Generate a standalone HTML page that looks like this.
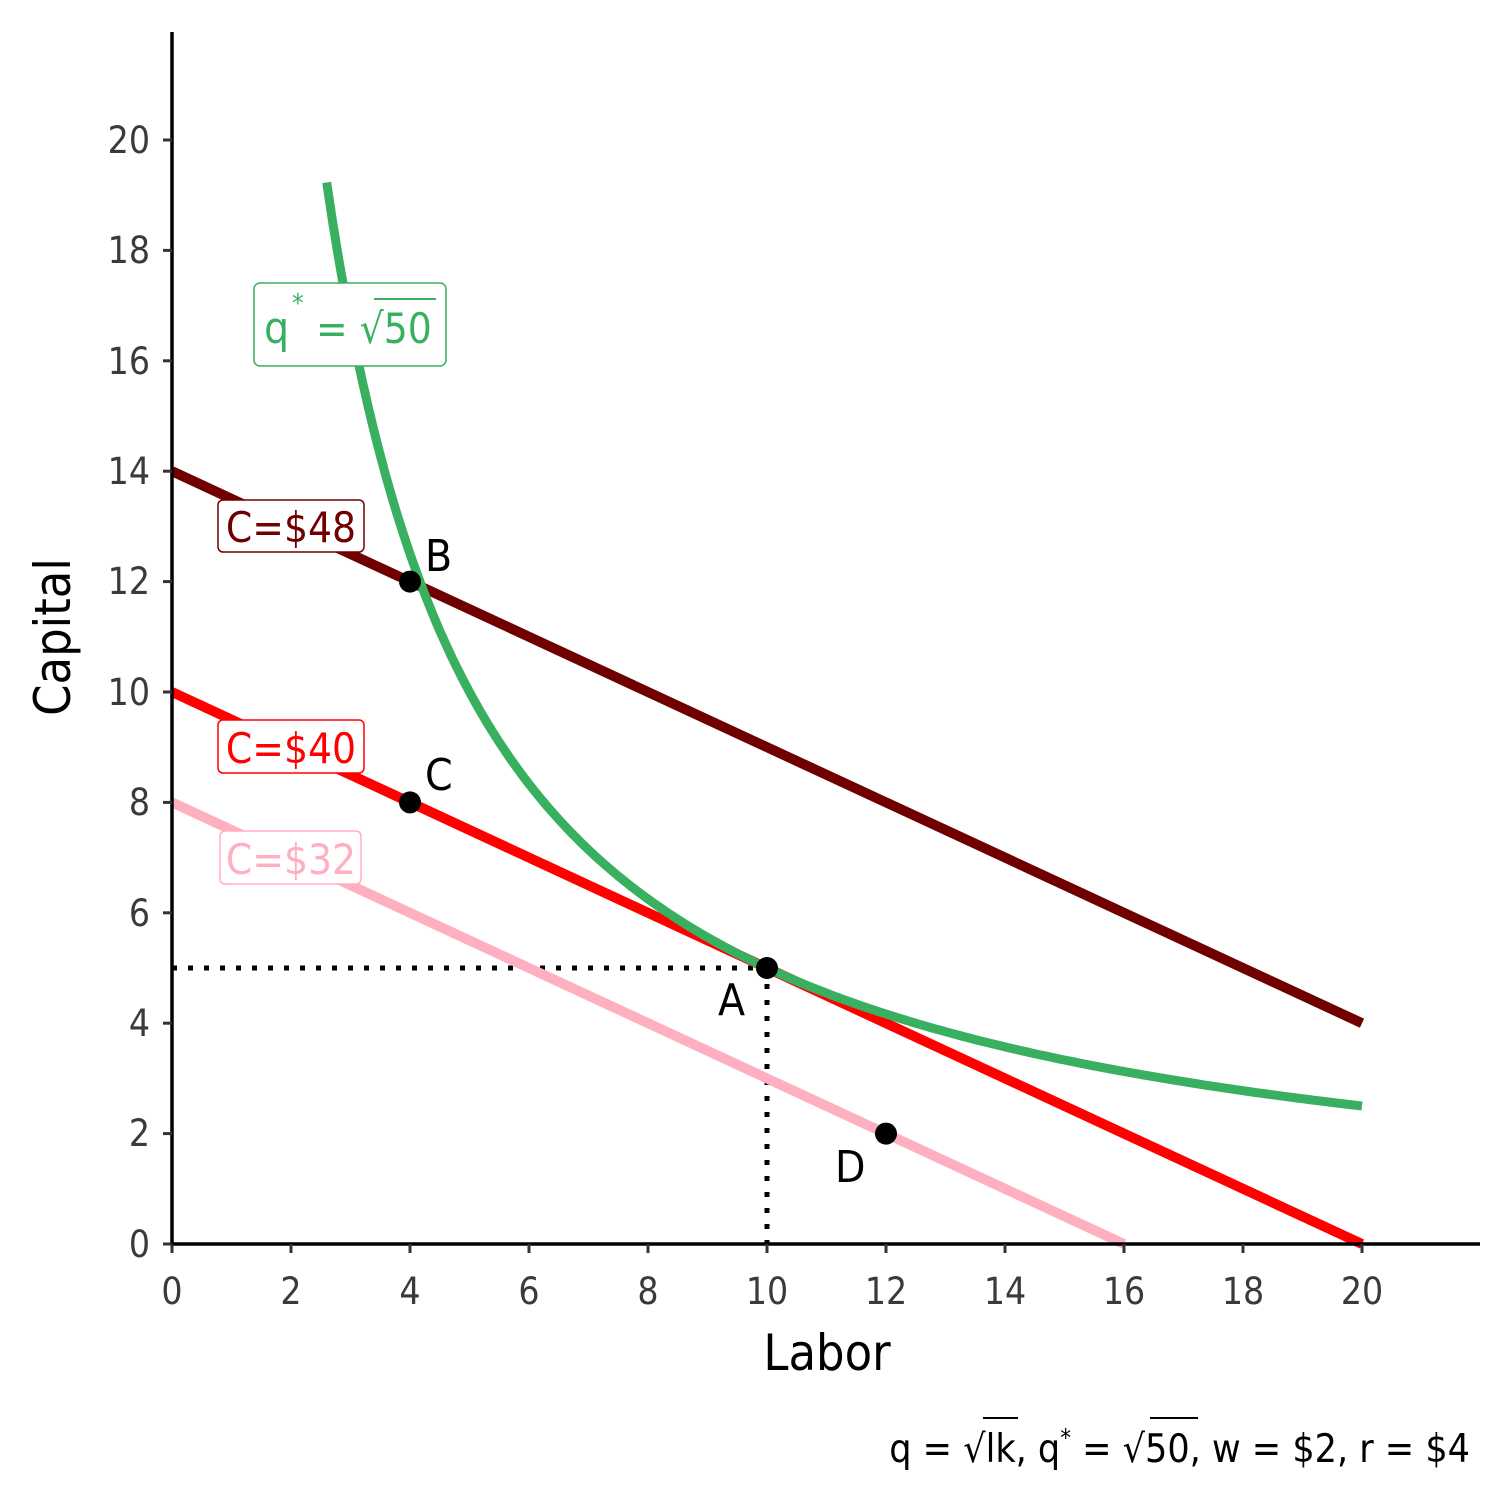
<!DOCTYPE html>
<html><head><meta charset="utf-8"><style>
html,body{margin:0;padding:0;background:#fff;}
svg{display:block;}
text{font-family:"DejaVu Sans Condensed","Liberation Sans",sans-serif;}
</style></head><body>
<svg width="1512" height="1512" viewBox="0 0 1512 1512" xmlns="http://www.w3.org/2000/svg">
<line x1="172" y1="968" x2="767" y2="968" stroke="#000" stroke-width="5" stroke-dasharray="5 11"/>
<line x1="767" y1="968" x2="767" y2="1244" stroke="#000" stroke-width="5" stroke-dasharray="5 11"/>
<line x1="172" y1="802.4" x2="1124" y2="1244" stroke="#ffb0c0" stroke-width="10"/>
<line x1="172" y1="692" x2="1362" y2="1244" stroke="#ff0000" stroke-width="10"/>
<line x1="172" y1="471.2" x2="1362" y2="1023.2" stroke="#700000" stroke-width="10"/>
<path id="iso" d="M326.7,184.3 L1362,1106" fill="none" stroke="#38b060" stroke-width="9"/>
<line x1="172" y1="32" x2="172" y2="1245" stroke="#000" stroke-width="3.5"/>
<line x1="170" y1="1244" x2="1480" y2="1244" stroke="#000" stroke-width="3.5"/>
<g stroke="#333" stroke-width="3">
<line x1="163" y1="1244" x2="172" y2="1244"/><line x1="163" y1="1133.6" x2="172" y2="1133.6"/>
<line x1="163" y1="1023.2" x2="172" y2="1023.2"/><line x1="163" y1="912.8" x2="172" y2="912.8"/>
<line x1="163" y1="802.4" x2="172" y2="802.4"/><line x1="163" y1="692" x2="172" y2="692"/>
<line x1="163" y1="581.6" x2="172" y2="581.6"/><line x1="163" y1="471.2" x2="172" y2="471.2"/>
<line x1="163" y1="360.8" x2="172" y2="360.8"/><line x1="163" y1="250.4" x2="172" y2="250.4"/>
<line x1="163" y1="140" x2="172" y2="140"/>
<line x1="172" y1="1244" x2="172" y2="1253"/><line x1="291" y1="1244" x2="291" y2="1253"/>
<line x1="410" y1="1244" x2="410" y2="1253"/><line x1="529" y1="1244" x2="529" y2="1253"/>
<line x1="648" y1="1244" x2="648" y2="1253"/><line x1="767" y1="1244" x2="767" y2="1253"/>
<line x1="886" y1="1244" x2="886" y2="1253"/><line x1="1005" y1="1244" x2="1005" y2="1253"/>
<line x1="1124" y1="1244" x2="1124" y2="1253"/><line x1="1243" y1="1244" x2="1243" y2="1253"/>
<line x1="1362" y1="1244" x2="1362" y2="1253"/>
</g>
<g font-size="37" fill="#3a3a3a" text-anchor="end">
<text x="150" y="1257">0</text><text x="150" y="1146">2</text><text x="150" y="1036">4</text>
<text x="150" y="926">6</text><text x="150" y="815">8</text><text x="150" y="705">10</text>
<text x="150" y="594">12</text><text x="150" y="484">14</text><text x="150" y="374">16</text>
<text x="150" y="263">18</text><text x="150" y="153">20</text>
</g>
<g font-size="37" fill="#3a3a3a" text-anchor="middle">
<text x="172" y="1304">0</text><text x="291" y="1304">2</text><text x="410" y="1304">4</text>
<text x="529" y="1304">6</text><text x="648" y="1304">8</text><text x="767" y="1304">10</text>
<text x="886" y="1304">12</text><text x="1005" y="1304">14</text><text x="1124" y="1304">16</text>
<text x="1243" y="1304">18</text><text x="1362" y="1304">20</text>
</g>
<text x="827" y="1370" font-size="50" text-anchor="middle" fill="#000">Labor</text>
<text transform="translate(70,637) rotate(-90)" font-size="50" text-anchor="middle" fill="#000">Capital</text>
<rect x="254" y="283" width="192" height="83" rx="6" fill="#fff" stroke="#38b060" stroke-width="1.5"/>
<text x="264" y="343" font-size="44" fill="#38b060">q</text>
<text x="292" y="312" font-size="26" fill="#38b060">*</text>
<text x="316" y="343" font-size="42" fill="#38b060">= √50</text>
<line x1="374" y1="299" x2="436" y2="299" stroke="#38b060" stroke-width="2"/>
<rect x="218" y="500" width="146" height="52" rx="5" fill="#fff" stroke="#700000" stroke-width="1.5"/>
<text x="291" y="542" font-size="42" fill="#700000" text-anchor="middle">C=$48</text>
<rect x="218" y="720" width="146" height="53" rx="5" fill="#fff" stroke="#ff0000" stroke-width="1.5"/>
<text x="291" y="763" font-size="42" fill="#ff0000" text-anchor="middle">C=$40</text>
<rect x="220" y="831" width="141" height="53" rx="5" fill="#fff" stroke="#ffb0c0" stroke-width="1.5"/>
<text x="291" y="874" font-size="42" fill="#ffb0c0" text-anchor="middle">C=$32</text>
<g fill="#000"><circle cx="410" cy="581.6" r="11"/><circle cx="410" cy="802.4" r="11"/>
<circle cx="767" cy="968" r="11"/><circle cx="886" cy="1133.6" r="11"/></g>
<g font-size="44" fill="#000" style="font-family:'Liberation Sans',sans-serif">
<text x="425" y="571">B</text><text x="425" y="790">C</text>
<text x="718" y="1015">A</text><text x="835" y="1182">D</text>
</g>
<text x="1470" y="1462" font-size="39" fill="#000" text-anchor="end">q = √lk, q<tspan dy="-16" font-size="24">*</tspan><tspan dy="16"> = √50, w = $2, r = $4</tspan></text>
<line x1="983" y1="1418" x2="1018" y2="1418" stroke="#000" stroke-width="2"/>
<line x1="1150" y1="1418" x2="1198" y2="1418" stroke="#000" stroke-width="2"/>
</svg>
<script>
(function(){var d="";for(var L=2.6;L<=20.0001;L+=0.1){var K=50/L;var x=172+59.5*L,y=1244-55.2*K;d+=(d?"L":"M")+x.toFixed(1)+","+y.toFixed(1)+" ";}document.getElementById("iso").setAttribute("d",d);})();
</script>
</body></html>
